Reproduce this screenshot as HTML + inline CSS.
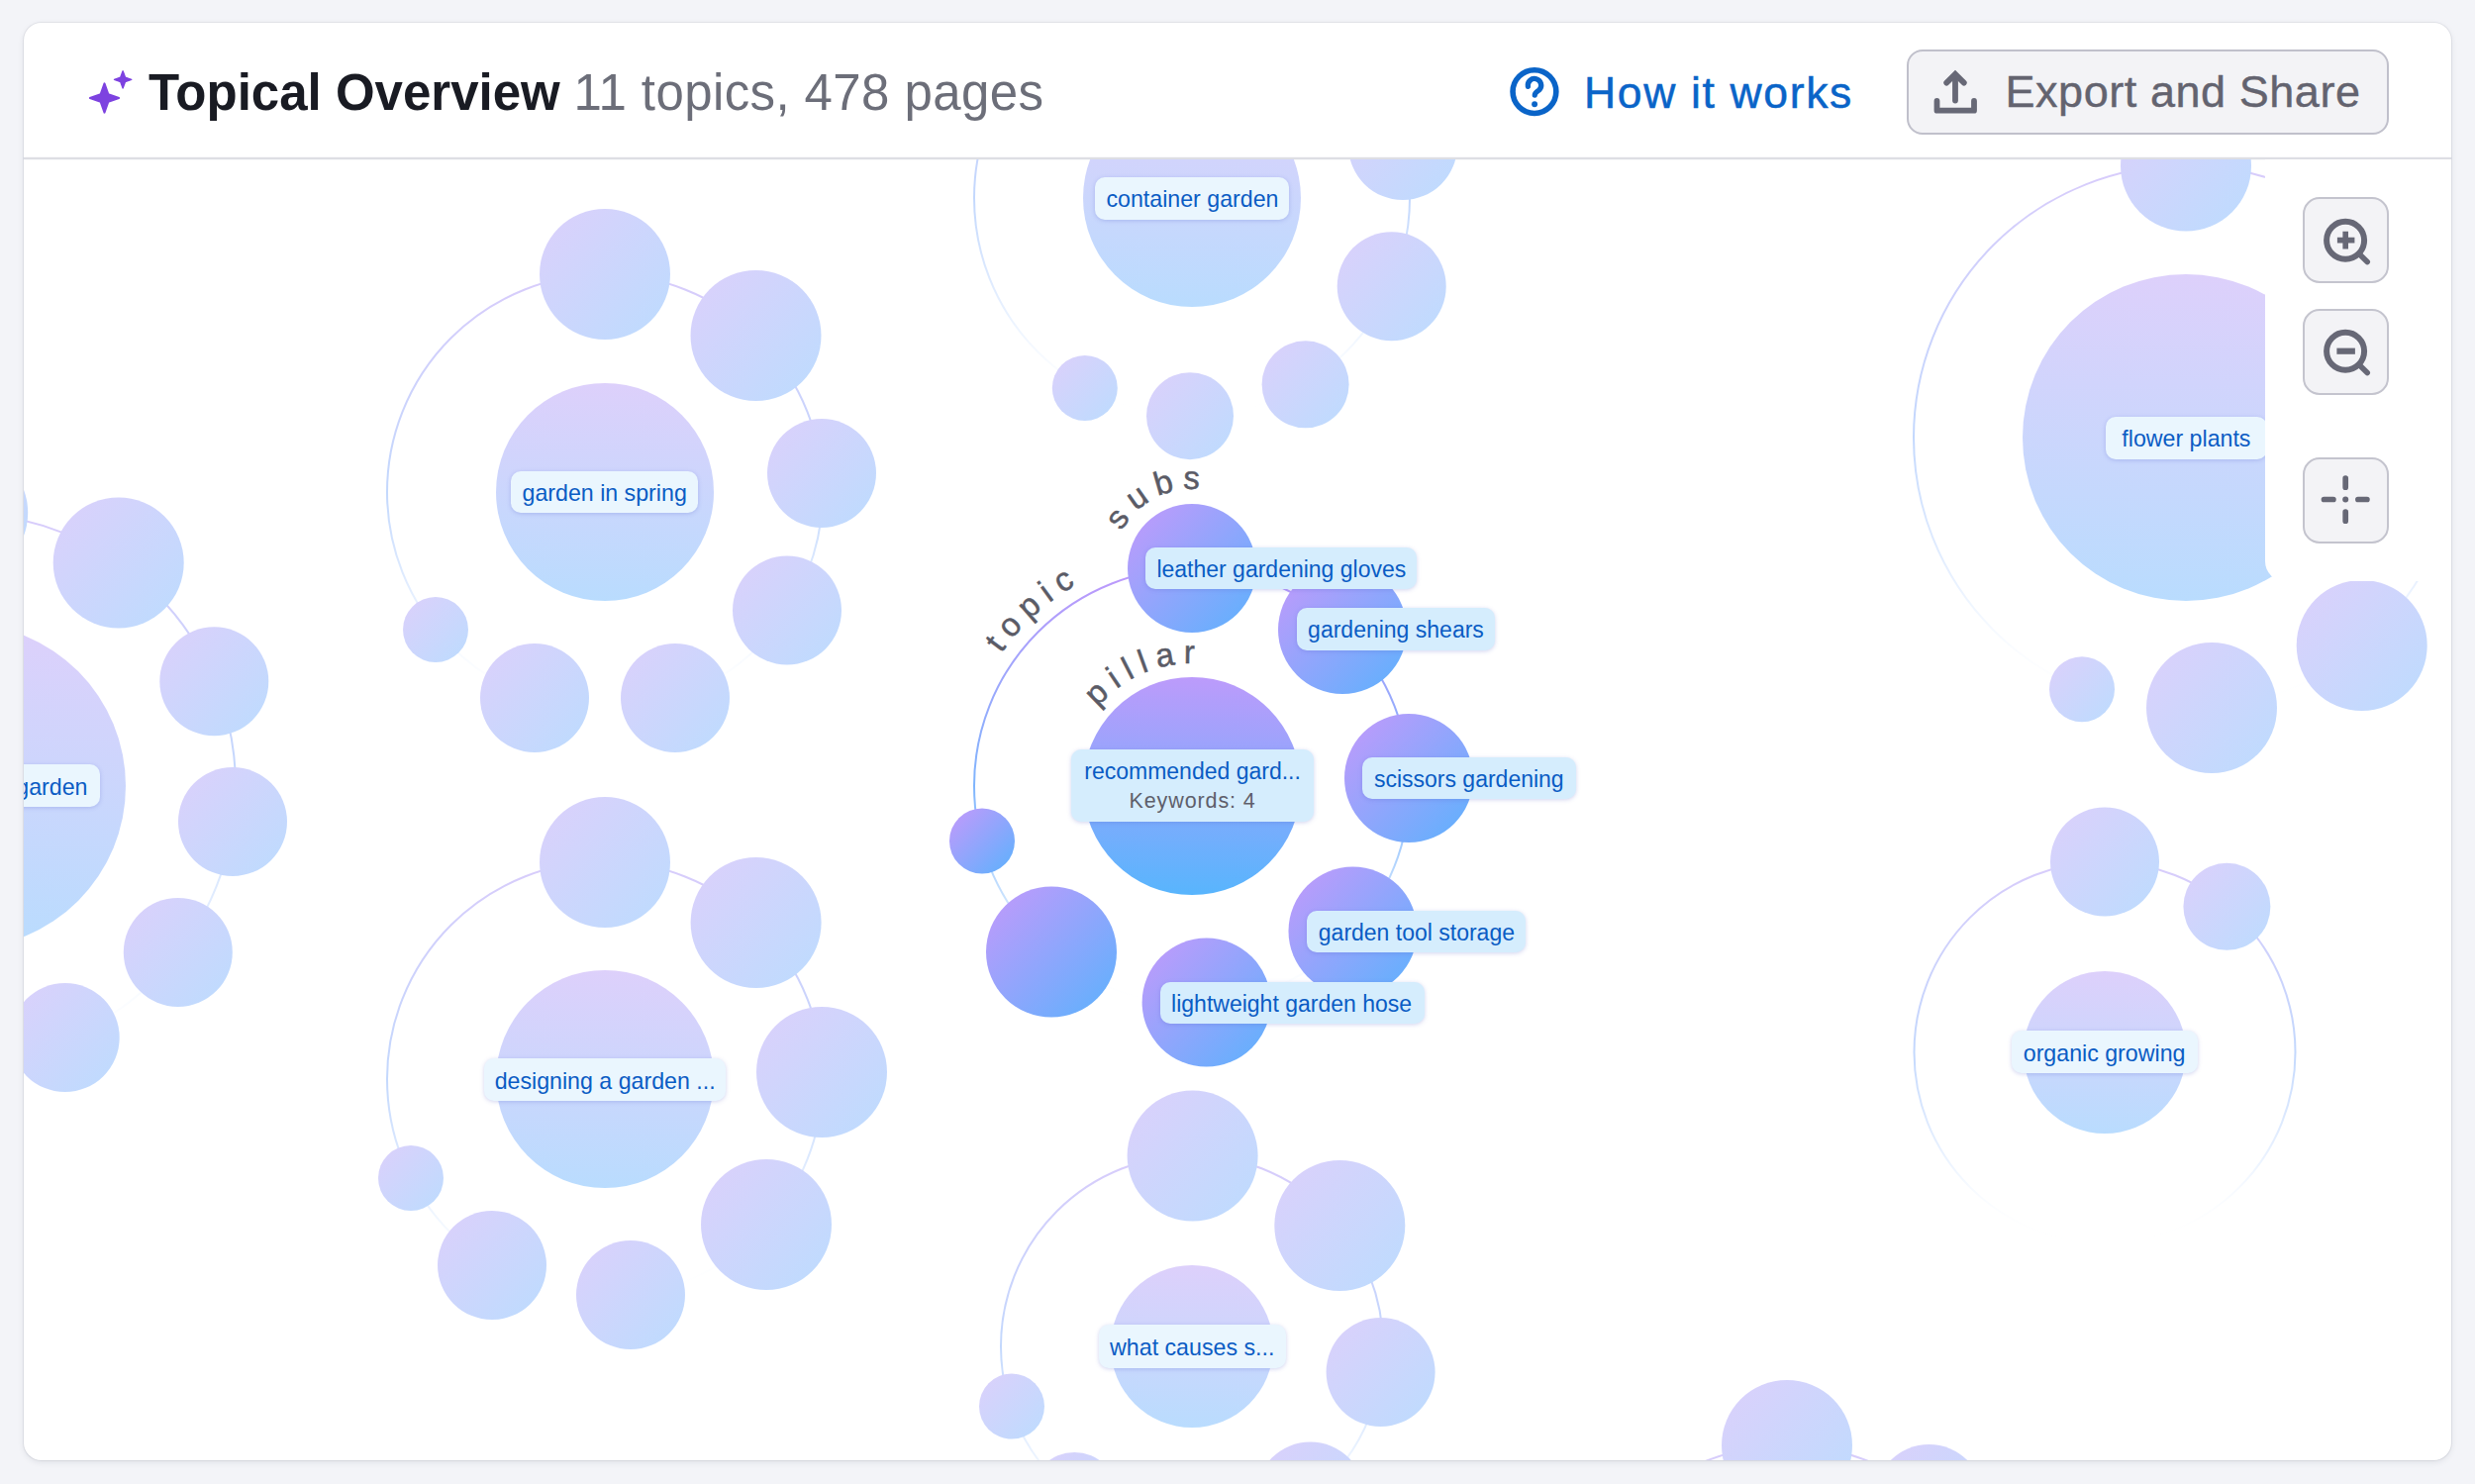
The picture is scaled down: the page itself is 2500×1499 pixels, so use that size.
<!DOCTYPE html>
<html><head><meta charset="utf-8"><title>Topical Overview</title>
<style>
html,body{margin:0;padding:0;}
body{width:2500px;height:1499px;background:#F3F4F8;position:relative;overflow:hidden;font-family:"Liberation Sans",sans-serif;}
.card{position:absolute;left:24px;top:23px;width:2452px;height:1451.5px;background:#fff;border-radius:18px;box-shadow:0 0 0 1px rgba(40,45,70,0.07),0 2px 6px rgba(40,45,70,0.10);}
.hdr{position:absolute;left:24px;top:159px;width:2452px;height:2px;background:#DDDEE4;box-shadow:0 0 1.5px rgba(40,45,70,0.12);}
.canvas{position:absolute;left:24px;top:161px;width:2452px;height:1313.5px;overflow:hidden;border-radius:0 0 18px 18px;}
.inner{position:absolute;left:-24px;top:-161px;width:2500px;height:1499px;}
.lab{position:absolute;display:flex;align-items:center;justify-content:center;background:#EAF6FE;border-radius:10px;box-shadow:0 1px 4px rgba(90,100,200,0.28);color:#0A5CC4;font-size:23.2px;white-space:nowrap;overflow:hidden;box-sizing:border-box;padding-top:3px;}
.lab.act{background:#D5EDFD;justify-content:flex-start;padding-left:11.5px;font-size:23px;}
.lab.two{flex-direction:column;justify-content:center;padding:1.5px 0 0 0;}
.lab .l1{font-size:23px;color:#0A5CC4;line-height:30px;}
.lab .l2{font-size:21.5px;color:#5E5F6B;line-height:30px;letter-spacing:0.9px;}
.panel{position:absolute;left:2288px;top:161px;width:188px;height:426px;background:#fff;border-radius:0 0 0 20px;}
.zb{position:absolute;left:2326px;width:86.6px;height:87px;box-sizing:border-box;border:2.4px solid #C4C4CE;border-radius:17px;background:#F3F3F6;}
.zb svg{position:absolute;left:-2.4px;top:-2.4px;}
.t1{position:absolute;left:150px;top:64px;font-size:51px;font-weight:700;color:#191B23;white-space:nowrap;line-height:60px;}
.t2{position:absolute;left:579.5px;top:64px;font-size:51px;letter-spacing:0.4px;color:#6C6E79;white-space:nowrap;line-height:60px;}
.lnk{position:absolute;left:1600px;top:65.5px;font-size:44.5px;color:#0A64C8;white-space:nowrap;line-height:55px;letter-spacing:1.65px;-webkit-text-stroke:0.5px #0A64C8;}
.btn{position:absolute;left:1925.6px;top:49.5px;width:487px;height:86.5px;box-sizing:border-box;border:2.5px solid #C0C0CB;border-radius:16px;background:#F3F3F6;}
.btxt{position:absolute;left:2025.5px;top:65px;font-size:45px;color:#63636F;white-space:nowrap;line-height:55px;letter-spacing:0.55px;-webkit-text-stroke:0.4px #63636F;}
</style></head><body>
<div class="card"></div>
<div class="hdr"></div>
<div class="canvas"><div class="inner">
<svg width="2500" height="1499" viewBox="0 0 2500 1499" style="position:absolute;left:0;top:0"><defs>
<linearGradient id="satA" x1="0" y1="0" x2="1" y2="1"><stop offset="0" stop-color="#C599FB"/><stop offset="1" stop-color="#5BB2FD"/></linearGradient>
<linearGradient id="ctrA" x1="0" y1="0" x2="0" y2="1"><stop offset="0" stop-color="#BC9BFB"/><stop offset="1" stop-color="#58B5FD"/></linearGradient>
<linearGradient id="satN" x1="0" y1="0" x2="1" y2="1"><stop offset="0" stop-color="#DCD0FB"/><stop offset="1" stop-color="#BCDCFE"/></linearGradient>
<linearGradient id="ctrN" x1="0" y1="0" x2="0" y2="1"><stop offset="0" stop-color="#DDD0FB"/><stop offset="1" stop-color="#B9DCFE"/></linearGradient>
<linearGradient id="ring0" gradientUnits="userSpaceOnUse" x1="611" y1="277" x2="611" y2="717"><stop offset="0" stop-color="#D8CCFB"/><stop offset="0.5" stop-color="#C3D8FD"/><stop offset="0.8" stop-color="#EEF5FF"/><stop offset="1" stop-color="#ffffff" stop-opacity="0"/></linearGradient><linearGradient id="ring1" gradientUnits="userSpaceOnUse" x1="-37" y1="519" x2="-37" y2="1069"><stop offset="0" stop-color="#D8CCFB"/><stop offset="0.5" stop-color="#C3D8FD"/><stop offset="0.8" stop-color="#EEF5FF"/><stop offset="1" stop-color="#ffffff" stop-opacity="0"/></linearGradient><linearGradient id="ring2" gradientUnits="userSpaceOnUse" x1="611" y1="870" x2="611" y2="1310"><stop offset="0" stop-color="#D8CCFB"/><stop offset="0.5" stop-color="#C3D8FD"/><stop offset="0.8" stop-color="#EEF5FF"/><stop offset="1" stop-color="#ffffff" stop-opacity="0"/></linearGradient><linearGradient id="ring3" gradientUnits="userSpaceOnUse" x1="1204" y1="-20" x2="1204" y2="420"><stop offset="0" stop-color="#D8CCFB"/><stop offset="0.5" stop-color="#C3D8FD"/><stop offset="0.8" stop-color="#EEF5FF"/><stop offset="1" stop-color="#ffffff" stop-opacity="0"/></linearGradient><linearGradient id="ring4" gradientUnits="userSpaceOnUse" x1="2208" y1="167" x2="2208" y2="717"><stop offset="0" stop-color="#D8CCFB"/><stop offset="0.5" stop-color="#C3D8FD"/><stop offset="0.8" stop-color="#EEF5FF"/><stop offset="1" stop-color="#ffffff" stop-opacity="0"/></linearGradient><linearGradient id="ring5" gradientUnits="userSpaceOnUse" x1="2126" y1="870.5" x2="2126" y2="1255.5"><stop offset="0" stop-color="#D8CCFB"/><stop offset="0.5" stop-color="#C3D8FD"/><stop offset="0.8" stop-color="#EEF5FF"/><stop offset="1" stop-color="#ffffff" stop-opacity="0"/></linearGradient><linearGradient id="ring6" gradientUnits="userSpaceOnUse" x1="1204" y1="1167" x2="1204" y2="1553"><stop offset="0" stop-color="#D8CCFB"/><stop offset="0.5" stop-color="#C3D8FD"/><stop offset="0.8" stop-color="#EEF5FF"/><stop offset="1" stop-color="#ffffff" stop-opacity="0"/></linearGradient><linearGradient id="ring7" gradientUnits="userSpaceOnUse" x1="1805" y1="1460" x2="1805" y2="1900"><stop offset="0" stop-color="#D8CCFB"/><stop offset="0.5" stop-color="#C3D8FD"/><stop offset="0.8" stop-color="#EEF5FF"/><stop offset="1" stop-color="#ffffff" stop-opacity="0"/></linearGradient><linearGradient id="ring8" gradientUnits="userSpaceOnUse" x1="1204" y1="574" x2="1204" y2="1014"><stop offset="0" stop-color="#BE98FB"/><stop offset="0.5" stop-color="#7FB5FD"/><stop offset="0.8" stop-color="#D6EAFE"/><stop offset="1" stop-color="#ffffff" stop-opacity="0"/></linearGradient><path id="pTopic" d="M1011.44,660.17 A234.5,234.5 0 0 1 1321.25,590.92" fill="none"/><path id="pSubs" d="M1133.1,536.94 A80,80 0 0 1 1273.28,534" fill="none"/><path id="pPillar" d="M1108.73,714.63 A124,124 0 0 1 1298.99,714.29" fill="none"/></defs><circle cx="611" cy="497" r="220" fill="none" stroke="url(#ring0)" stroke-width="2"/><circle cx="611" cy="277" r="66" fill="url(#satN)"/><circle cx="763.5" cy="339" r="66" fill="url(#satN)"/><circle cx="830" cy="478" r="55" fill="url(#satN)"/><circle cx="795" cy="616.5" r="55" fill="url(#satN)"/><circle cx="682" cy="705" r="55" fill="url(#satN)"/><circle cx="540" cy="705" r="55" fill="url(#satN)"/><circle cx="440" cy="636" r="33" fill="url(#satN)"/><circle cx="611" cy="497" r="110" fill="url(#ctrN)"/><circle cx="-37" cy="794" r="275" fill="none" stroke="url(#ring1)" stroke-width="2"/><circle cx="-37.8" cy="518" r="66" fill="url(#satN)"/><circle cx="119.7" cy="568.4" r="66" fill="url(#satN)"/><circle cx="216.3" cy="688.3" r="55" fill="url(#satN)"/><circle cx="235" cy="830" r="55" fill="url(#satN)"/><circle cx="179.8" cy="961.9" r="55" fill="url(#satN)"/><circle cx="65.7" cy="1048" r="55" fill="url(#satN)"/><circle cx="-37" cy="794" r="164" fill="url(#ctrN)"/><circle cx="611" cy="1090" r="220" fill="none" stroke="url(#ring2)" stroke-width="2"/><circle cx="611" cy="871" r="66" fill="url(#satN)"/><circle cx="763.6" cy="932" r="66" fill="url(#satN)"/><circle cx="830" cy="1083" r="66" fill="url(#satN)"/><circle cx="774" cy="1237" r="66" fill="url(#satN)"/><circle cx="637" cy="1308" r="55" fill="url(#satN)"/><circle cx="497" cy="1278" r="55" fill="url(#satN)"/><circle cx="415" cy="1190" r="33" fill="url(#satN)"/><circle cx="611" cy="1090" r="110" fill="url(#ctrN)"/><circle cx="1204" cy="200" r="220" fill="none" stroke="url(#ring3)" stroke-width="2"/><circle cx="1095.8" cy="391.9" r="33" fill="url(#satN)"/><circle cx="1202" cy="420.2" r="44" fill="url(#satN)"/><circle cx="1318.6" cy="388.3" r="44" fill="url(#satN)"/><circle cx="1405.7" cy="289.2" r="55" fill="url(#satN)"/><circle cx="1417" cy="147" r="55" fill="url(#satN)"/><circle cx="1204" cy="200" r="110" fill="url(#ctrN)"/><circle cx="2208" cy="442" r="275" fill="none" stroke="url(#ring4)" stroke-width="2"/><circle cx="2208" cy="167.5" r="66" fill="url(#satN)"/><circle cx="2103" cy="696.2" r="33" fill="url(#satN)"/><circle cx="2234" cy="715" r="66" fill="url(#satN)"/><circle cx="2385.7" cy="652" r="66" fill="url(#satN)"/><circle cx="2208" cy="442" r="165" fill="url(#ctrN)"/><circle cx="2126" cy="1063" r="192.5" fill="none" stroke="url(#ring5)" stroke-width="2"/><circle cx="2126" cy="870.5" r="55" fill="url(#satN)"/><circle cx="2249.4" cy="915.8" r="44" fill="url(#satN)"/><circle cx="2126" cy="1063" r="82" fill="url(#ctrN)"/><circle cx="1204" cy="1360" r="193" fill="none" stroke="url(#ring6)" stroke-width="2"/><circle cx="1204.6" cy="1167.4" r="66" fill="url(#satN)"/><circle cx="1353.3" cy="1238" r="66" fill="url(#satN)"/><circle cx="1394.6" cy="1386" r="55" fill="url(#satN)"/><circle cx="1022" cy="1420.6" r="33" fill="url(#satN)"/><circle cx="1085.3" cy="1511" r="44" fill="url(#satN)"/><circle cx="1323.6" cy="1511.5" r="55" fill="url(#satN)"/><circle cx="1204" cy="1360" r="82" fill="url(#ctrN)"/><circle cx="1805" cy="1680" r="220" fill="none" stroke="url(#ring7)" stroke-width="2"/><circle cx="1805" cy="1460" r="66" fill="url(#satN)"/><circle cx="1948.5" cy="1514" r="55" fill="url(#satN)"/><circle cx="1805" cy="1680" r="110" fill="url(#ctrN)"/><circle cx="1204" cy="794" r="220" fill="none" stroke="url(#ring8)" stroke-width="2"/><circle cx="1204" cy="574" r="65" fill="url(#satA)"/><circle cx="1356" cy="636" r="65" fill="url(#satA)"/><circle cx="1423" cy="786" r="65" fill="url(#satA)"/><circle cx="1366.5" cy="940.5" r="65" fill="url(#satA)"/><circle cx="1218.6" cy="1012.5" r="65" fill="url(#satA)"/><circle cx="1062" cy="961.6" r="66" fill="url(#satA)"/><circle cx="992" cy="849.5" r="33" fill="url(#satA)"/><circle cx="1204" cy="794" r="110" fill="url(#ctrA)"/><text font-family="Liberation Sans" font-size="33" fill="#5A5B66" stroke="#5A5B66" stroke-width="0.5" letter-spacing="8.3"><textPath href="#pTopic">topic</textPath></text><text font-family="Liberation Sans" font-size="33" fill="#5A5B66" stroke="#5A5B66" stroke-width="0.5" letter-spacing="8.3"><textPath href="#pSubs">subs</textPath></text><text font-family="Liberation Sans" font-size="33" fill="#5A5B66" stroke="#5A5B66" stroke-width="0.5" letter-spacing="8.3" letter-spacing="6"><textPath href="#pPillar">pillar</textPath></text></svg>
<div class="lab" style="left:516.4px;top:475.8px;width:188.5px;height:42.4px;">garden in spring</div><div class="lab" style="left:489.3px;top:1069.2px;width:243.7px;height:42.7px;">designing a garden ...</div><div class="lab" style="left:1106.4px;top:178.9px;width:196.1px;height:42.7px;">container garden</div><div class="lab" style="left:2031.5px;top:1041px;width:188.2px;height:43px;">organic growing</div><div class="lab" style="left:1109.7px;top:1338px;width:189.1px;height:43.8px;">what causes s...</div><div class="lab" style="left:2126.8px;top:420.7px;width:163.2px;height:43.3px;">flower plants</div><div class="lab" style="left:-175px;top:772.4px;width:275.5px;height:42.6px;justify-content:flex-end;padding-right:12px;box-sizing:border-box;">vegetable garden</div><div class="lab act" style="left:1156.9px;top:552.6px;width:273.8px;height:42.7px;">leather gardening gloves</div><div class="lab act" style="left:1309.6px;top:613.9px;width:200.4px;height:43.1px;">gardening shears</div><div class="lab act" style="left:1376.4px;top:764.8px;width:215.6px;height:42.2px;">scissors gardening</div><div class="lab act" style="left:1320.3px;top:920px;width:220.4px;height:42.3px;">garden tool storage</div><div class="lab act" style="left:1171.6px;top:992px;width:267.3px;height:42.3px;">lightweight garden hose</div><div class="lab act two" style="left:1082.2px;top:756.8px;width:244.8px;height:73.6px;"><div class="l1">recommended gard...</div><div class="l2">Keywords: 4</div></div>
</div></div>
<div class="panel"></div>
<div class="zb" style="top:199.2px"><svg width="86" height="86" viewBox="0 0 86 86"><circle cx="43.1" cy="43.7" r="19" fill="none" stroke="#676876" stroke-width="6"/><path d="M57 57.6 L65.2 65.6" stroke="#676876" stroke-width="5.6" stroke-linecap="round"/><path d="M43.2 34.8 V52.4 M34.9 43.6 H52.4" stroke="#676876" stroke-width="5.6"/></svg></div>
<div class="zb" style="top:311.7px"><svg width="86" height="86" viewBox="0 0 86 86"><circle cx="43.1" cy="43.7" r="19" fill="none" stroke="#676876" stroke-width="6"/><path d="M57 57.6 L65.2 65.6" stroke="#676876" stroke-width="5.6" stroke-linecap="round"/><path d="M34.4 43.7 H52.9" stroke="#676876" stroke-width="6.2"/></svg></div>
<div class="zb" style="top:461.7px"><svg width="86" height="86" viewBox="0 0 86 86"><path d="M43.2 22.2 V31.2 M43.2 56.2 V65.2 M21.5 43.5 H30.9 M55.9 43.5 H64.9" stroke="#676876" stroke-width="5.7" stroke-linecap="round"/><circle cx="43.2" cy="43.5" r="3" fill="#676876"/></svg></div>
<svg width="150" height="130" viewBox="0 0 150 130" style="position:absolute;left:0;top:0"><path fill="#7D42E0" stroke="#7D42E0" stroke-width="2" stroke-linejoin="round" d="M105.5,84.4 L109.3,95.2 L120.1,99 L109.3,102.8 L105.5,113.6 L101.7,102.8 L90.9,99 L101.7,95.2Z"/><path fill="#7D42E0" stroke="#7D42E0" stroke-width="1.4" stroke-linejoin="round" d="M124.1,71.8 L126.4,78.1 L132.7,80.4 L126.4,82.7 L124.1,89 L121.8,82.7 L115.5,80.4 L121.8,78.1Z"/></svg>
<div class="t1">Topical Overview</div>
<div class="t2">11 topics, 478 pages</div>
<svg width="60" height="60" viewBox="1520 62 60 60" style="position:absolute;left:1520px;top:62px"><circle cx="1549.95" cy="92.6" r="21.9" fill="none" stroke="#0A64C8" stroke-width="5.6"/><path d="M1543.4,87.3 A6.7,6.7 0 1 1 1555.1,90.5 C1554,92 1550.4,93 1550.3,96" fill="none" stroke="#0A64C8" stroke-width="5.3" stroke-linecap="round" stroke-linejoin="round"/><circle cx="1550.1" cy="105.2" r="2.95" fill="#0A64C8"/></svg>
<div class="lnk">How it works</div>
<div class="btn"></div>
<svg width="60" height="60" viewBox="1945 62 60 60" style="position:absolute;left:1945px;top:62px"><path d="M1956.5,102 V111.7 H1994 V102" fill="none" stroke="#676876" stroke-width="5.8" stroke-linejoin="round" stroke-linecap="round"/><path d="M1975,101.6 V77" fill="none" stroke="#676876" stroke-width="5.8" stroke-linecap="round"/><path d="M1966.2,83.6 L1975,74.9 L1983.8,83.6" fill="none" stroke="#676876" stroke-width="5.8" stroke-linecap="round" stroke-linejoin="miter"/></svg>
<div class="btxt">Export and Share</div>
</body></html>
